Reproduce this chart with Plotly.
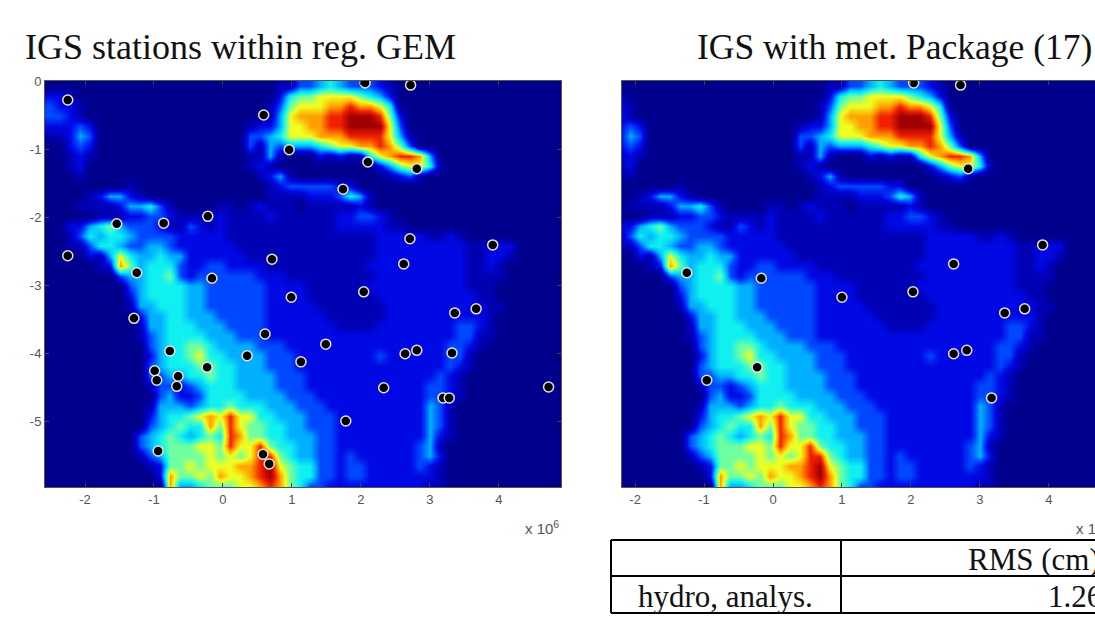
import plotly.graph_objects as go

W, H = 1095, 623

# Field: one string per row, top to bottom (A = highest level)
field_rows = [
"0000000000 0000000000 0001133454 33321",
"2210000000 0000000000 0002566777 76542",
"3221000000 0000000000 0013677788 98875",
"3321000000 0000000000 0014788899 AAA962",
"2223200000 0000000000 1224778899 AAAA73",
"1124300000 0000000000 3345777888 9999741",
"0023200000 0000000000 3143444567 7889863",
"0012100000 0000000000 1141000212 1157899840",
"0012000000 0000000000 1210000000 0002467751",
"0001000000 0000000000 0124100000 0000123100",
"0000000010 0000000000 0012333332 2",
"0000124421 0000000000 0011112223 541",
"0001111244 5310000110 1211101111 121",
"0000011122 3321111211 1121111112 2332100000",
"0022456433 3211321211 1111111112 2222110000",
"0013545543 3332222211 1111111111 1112222211 21",
"0011355433 4432222221 1111111111 1112222222 2211222",
"0000214754 4544222222 1111111111 1112222222 2211221",
"0000012864 5553223322 2211111111 1122222222 221121",
"0000000344 5563233333 3222111111 1112222222 221111",
"0000000034 5555443333 3322221111 1122222222 221110",
"0000000024 5555443333 3322221111 1112222222 222110",
"0000000014 4555443333 3322222111 1111222222 222211",
"0000000002 4455444333 3322222211 1111222222 22221",
"0000000001 4455544433 3322222221 1112222222 23321",
"0000000001 3455554443 3322222222 2222222222 23311",
"0000000000 3455665444 4333222222 2222222222 3321",
"0000000000 2455675544 4433322222 2223222222 331",
"0000000000 3455566554 4433322222 2222222222 321",
"0000000000 3344556554 4443332222 2222222223 21",
"0000000000 1332345554 4443332222 2222222233 21",
"0000000000 0342235555 4444333222 2222222233 21",
"0000000000 1444345565 5544433322 2222222243 1",
"0000000000 2455678797 7554443332 2222222243 1",
"0000000000 3456558697 6655443332 2222222243 1",
"0000000003 4565456598 6655444332 2222222242 1",
"0000000003 4566677697 7965544332 2222222341",
"0000000001 3466667676 7996544332 3222222342",
"0000000000 1266767778 89A7655332 3322222321",
"0000000000 0286676877 89A8655332 3322222221",
"0000000000 0084456667 7898653322 2222222211",
]
field_x0, field_dx = -2.58, 10 / 69
field_dy = 10 / 68

station_x = [-2.25, 0.59, 2.06, 2.72, 0.96, 2.10, 2.81, 1.74, -1.54, -0.86, -0.22, 2.71, 3.91, -2.25, 0.71,
             2.62, -1.25, -0.16, 0.99, 2.04, 3.67, 3.36, -1.29, 0.61, -0.77, 1.49, 0.35, 1.13, 2.64, 2.81,
             3.32, -0.23, -0.99, -0.96, -0.65, -0.67, 2.33, 3.19, 3.28, 4.72, 1.78, -0.94, 0.58, 0.67]
station_y = [-0.28, -0.50, -0.03, -0.06, -1.01, -1.19, -1.29, -1.59, -2.10, -2.09, -1.99, -2.32, -2.41, -2.57, -2.62,
             -2.69, -2.82, -2.90, -3.18, -3.10, -3.35, -3.41, -3.49, -3.72, -3.97, -3.87, -4.04, -4.13, -4.01, -3.96,
             -4.00, -4.21, -4.26, -4.40, -4.34, -4.49, -4.51, -4.66, -4.66, -4.50, -5.00, -5.44, -5.49, -5.63]
met_x = [2.04, 2.72, 2.83, -1.25, -0.17, 1.00, 2.03, 2.62, 3.91, 3.65, 3.36, -0.23, -0.96, 2.62, 2.81, 3.17]
met_y = [-0.03, -0.06, -1.29, -2.82, -2.90, -3.18, -3.10, -2.69, -2.41, -3.35, -3.41, -4.21, -4.40, -4.01, -3.96, -4.66]

titles = ["IGS stations within reg. GEM", "IGS with met. Package (17)"]
x_ticks = [-2, -1, 0, 1, 2, 3, 4]
y_ticks = [0, -1, -2, -3, -4, -5]
table_header = ["", "RMS (cm)"]
table_row = ["hydro, analys.", "1.26"]

levels = "0123456789A"
z = [[levels.index(ch) for ch in r.replace(" ", "").ljust(52, "0")] for r in field_rows]
xc = [field_x0 + (i + 0.5) * field_dx for i in range(52)]
yc = [-(j + 0.5) * field_dy for j in range(len(z))]

scale = [
    [0.0, "#00008c"], [0.1, "#0000b4"], [0.2, "#0008e4"], [0.3, "#0048ff"], [0.4, "#00b0ff"],
    [0.5, "#10f0f0"], [0.6, "#70ffa0"], [0.7, "#f0ff20"], [0.8, "#ffa000"], [0.9, "#f02000"], [1.0, "#a00000"],
]

fig = go.Figure()
for i, (sx, sy) in enumerate([(station_x, station_y), (met_x, met_y)]):
    n = "" if i == 0 else "2"
    fig.add_trace(go.Heatmap(x=xc, y=yc, z=z, zmin=0, zmax=10, colorscale=scale, zsmooth="best",
                             showscale=False, xaxis="x" + n, yaxis="y" + n, hoverinfo="skip"))
    fig.add_trace(go.Scatter(x=sx, y=sy, mode="markers", xaxis="x" + n, yaxis="y" + n, showlegend=False,
                             marker=dict(color="black", size=10, line=dict(color="#e6e0e0", width=1.5))))


def fx(p):
    return p / W


def fy(p):
    return 1 - p / H


tickfont = dict(family="Liberation Sans", size=13, color="#555555")
ax = dict(showgrid=False, zeroline=False, ticks="inside", ticklen=4, tickcolor="#444444", tickfont=tickfont,
          showline=True, linecolor="#555555", linewidth=1, tickvals=x_ticks, ticktext=[str(t) for t in x_ticks])
fig.update_layout(
    width=W, height=H, margin=dict(l=0, r=0, t=0, b=0, pad=0, autoexpand=False),
    paper_bgcolor="white", plot_bgcolor="white", showlegend=False,
    xaxis=dict(ax, domain=[fx(45), fx(561)], range=[-2.58, 4.90], anchor="y", mirror="ticks"),
    yaxis=dict(ax, domain=[fy(487), fy(81)], range=[-5.97, 0], anchor="x", mirror="ticks",
               tickvals=y_ticks, ticktext=[str(t) for t in y_ticks]),
    xaxis2=dict(ax, domain=[fx(622), 1], range=[-2.19, 4.67], anchor="y2", mirror="ticks"),
    yaxis2=dict(ax, domain=[fy(487), fy(81)], range=[-5.97, 0], anchor="x2", mirror=False,
                tickvals=[], ticks=""),
)

serif = "Liberation Serif"
notes = [
    (25, 47, titles[0], "left", dict(family=serif, size=36, color="#111111")),
    (697, 47, titles[1], "left", dict(family=serif, size=35.5, color="#111111")),
    (525, 527, "x 10<sup>6</sup>", "left", dict(family="Liberation Sans", size=15, color="#555555")),
    (1076, 527, "x 10<sup>6</sup>", "left", dict(family="Liberation Sans", size=15, color="#555555")),
    (968, 559, table_header[1], "left", dict(family=serif, size=31, color="#111111")),
    (638, 596, table_row[0], "left", dict(family=serif, size=31, color="#111111")),
    (1048, 596, table_row[1], "left", dict(family=serif, size=31, color="#111111")),
]
fig.update_layout(annotations=[
    dict(x=fx(px), y=fy(py), xref="paper", yref="paper", text=t, showarrow=False, xanchor=a, yanchor="middle",
         font=f, borderpad=0, borderwidth=0) for px, py, t, a, f in notes
])

line = dict(color="black", width=2)
fig.update_layout(shapes=[
    dict(type="line", xref="paper", yref="paper", x0=fx(611), x1=1.01, y0=fy(py), y1=fy(py), line=line)
    for py in (540, 576, 613)
] + [
    dict(type="line", xref="paper", yref="paper", x0=fx(px), x1=fx(px), y0=fy(540), y1=fy(613), line=line)
    for px in (611, 841)
])

fig.write_html("out.html", config=dict(displayModeBar=False),
               post_script='document.body.style.margin="0";document.body.style.overflow="hidden";')
